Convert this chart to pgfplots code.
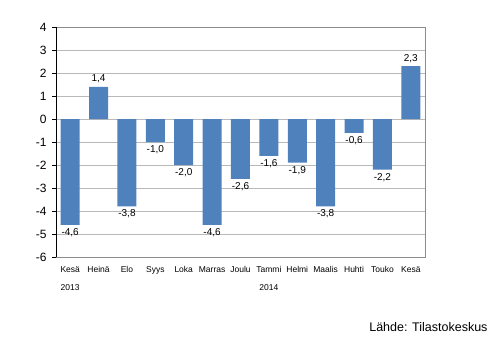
\documentclass[border=0pt]{standalone}
\usepackage{fontspec}
\setmainfont{Liberation Sans}
\usepackage{pgfplots}
\pgfplotsset{compat=1.18}
\definecolor{barblue}{HTML}{4F81BD}
\begin{document}
\begin{tikzpicture}
\useasboundingbox (-56pt,-84pt) rectangle (440pt,257pt);
\begin{axis}[
  at={(0,0)}, anchor=south west,
  scale only axis, width=369pt, height=230pt,
  ymin=-6, ymax=4, ytick={-6,-5,...,4},
  xmin=-0.5, xmax=12.5,
  xtick={0,...,12},
  xticklabels={{Kesä\\[8pt]2013},Heinä,Elo,Syys,Loka,Marras,Joulu,{Tammi\\[8pt]2014},Helmi,Maalis,Huhti,Touko,Kesä},
  xticklabel style={font=\fontsize{8.5}{10}\selectfont, align=center, anchor=north, yshift=-2pt},
  yticklabel style={font=\fontsize{12}{14}\selectfont, xshift=-2pt},
  /pgf/number format/assume math mode=true,
  xtick style={draw=none},
  ytick style={black, thin},
  ytick pos=left,
  tick align=outside, major tick length=4pt,
  ymajorgrids, grid style={gray!55, line width=0.6pt},
  axis line style={gray!90, line width=0.6pt},
  ybar, bar width=19pt,
  nodes near coords, nodes near coords align={vertical},
  every node near coord/.append style={font=\fontsize{10}{12}\selectfont, black,
    /pgf/number format/.cd, use comma, fixed, fixed zerofill, precision=1, assume math mode=true},
]
\addplot[fill=barblue, draw=none] coordinates {
(0,-4.6) (1,1.4) (2,-3.8) (3,-1.0) (4,-2.0) (5,-4.6) (6,-2.6) (7,-1.6) (8,-1.9) (9,-3.8) (10,-0.6) (11,-2.2) (12,2.3)};
\draw[black, line width=0.9pt] (rel axis cs:0,0) -- (rel axis cs:0,1);
\end{axis}
\node[anchor=east, font=\fontsize{12.5}{15}\selectfont] at (435pt,-70pt) {Lähde: Tilastokeskus};
\end{tikzpicture}
\end{document}
